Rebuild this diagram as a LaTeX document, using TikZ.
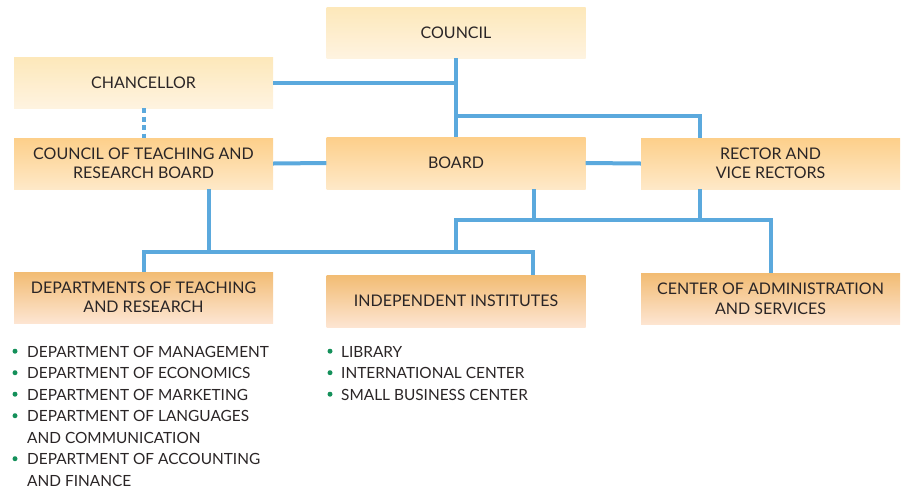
\documentclass[tikz,border=0pt]{standalone}
\usepackage{fontspec}
\setmainfont{Lato}
\usetikzlibrary{calc}
\definecolor{linecol}{HTML}{5BA9DD}
\definecolor{txt}{HTML}{2A2526}
\definecolor{bul}{HTML}{14905A}
\definecolor{aT}{HTML}{FDE8BA}
\definecolor{aB}{HTML}{FEF3E0}
\definecolor{bT}{HTML}{FDCF8A}
\definecolor{bB}{HTML}{FEE9C8}
\definecolor{cT}{HTML}{F2BC73}
\definecolor{cB}{HTML}{FDE5D2}
\tikzset{
  box/.style={rectangle, minimum width=259pt, minimum height=51pt, inner sep=0pt,
    align=center, text=txt, font=\fontsize{16}{19.5}\selectfont},
  boxa/.style={box, top color=aT, bottom color=aB},
  boxb/.style={box, top color=bT, bottom color=bB},
  boxc/.style={box, top color=cT, bottom color=cB},
  conn/.style={draw=linecol, line width=4pt},
  dashconn/.style={conn, dash pattern=on 5pt off 3.5pt},
  item/.style={anchor=base west, inner sep=0pt, text depth=0pt, text=txt, font=\fontsize{15.4}{21.7}\selectfont},
  dot/.style={circle, fill=bul, inner sep=0pt, minimum size=5pt}
}
\begin{document}
\begin{tikzpicture}[x=1pt,y=-1pt]
\useasboundingbox (0,0) rectangle (904,488);
\node[boxa] (council) at (456,32.5) {COUNCIL};
\node[boxa] (chancellor) at (143.5,82.5) {CHANCELLOR};
\node[boxb] (ctrb) at (143.5,163.5) {COUNCIL OF TEACHING AND\\RESEARCH BOARD};
\node[boxb, minimum height=52pt] (board) at (456,163) {BOARD};
\node[boxb] (rector) at (770.5,163.5) {RECTOR AND\\VICE RECTORS};
\node[boxc] (dtr) at (143.5,297.5) {DEPARTMENTS OF TEACHING\\AND RESEARCH};
\node[boxc, minimum height=52pt] (ii) at (456,301) {INDEPENDENT INSTITUTES};
\node[boxc] (cas) at (770.5,299) {CENTER OF ADMINISTRATION\\AND SERVICES};

% connector coordinates
\coordinate (jA) at (456,116);
\coordinate (rTop) at (700,138);
\coordinate (rBot) at (700,189);
\coordinate (cBot) at (209,189);
\coordinate (bBot) at (534,189);
\coordinate (jB) at (456,220);
\coordinate (jC) at (456,252);
\coordinate (jL) at (144,252);
\coordinate (dTop) at (144,272);
\coordinate (iTop) at (533,275);
\coordinate (cTop) at (771,273);

\draw[conn] (council.south) -- (board.north);
\draw[conn] (chancellor.east) -- (chancellor.east -| council.south);
\draw[conn] (jA) -| (rTop);
\draw[dashconn] (chancellor.south) -- (ctrb.north);
\draw[conn] (ctrb.east) -- (board.west);
\draw[conn] (board.east) -- (rector.west);
\draw[conn] (cBot) |- (jL) -- (dTop);
\draw[conn] (jL) -| (iTop);
\draw[conn] (bBot) |- (jB);
\draw[conn] (rBot) |- (jB) -- (jC);
\draw[conn] (jB) -| (cTop);

% lists
\foreach \t/\y [count=\i] in {DEPARTMENT OF MANAGEMENT/357, DEPARTMENT OF ECONOMICS/378.5, DEPARTMENT OF MARKETING/400, DEPARTMENT OF LANGUAGES/421.5, DEPARTMENT OF ACCOUNTING/464.5}{
  \node[dot] (ld\i) at (15,\y-5.8) {};
  \node[item] (lt\i) at (27,\y) {\t};
}
\node[item] (lt4b) at (27,443) {AND COMMUNICATION};
\node[item] (lt5b) at (27,486) {AND FINANCE};
\foreach \t/\y [count=\i] in {LIBRARY/357, INTERNATIONAL CENTER/378.5, SMALL BUSINESS CENTER/400}{
  \node[dot] (rd\i) at (330,\y-5.8) {};
  \node[item] (rt\i) at (341,\y) {\t};
}
\end{tikzpicture}
\end{document}
